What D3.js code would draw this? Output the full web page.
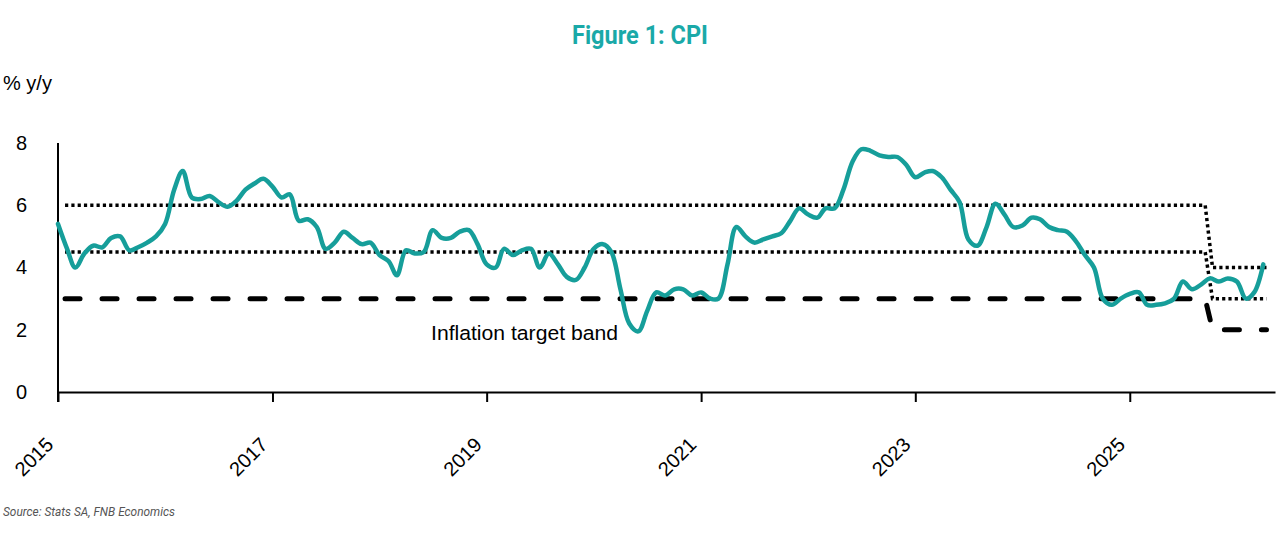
<!DOCTYPE html>
<html>
<head>
<meta charset="utf-8">
<script src="https://cdn.jsdelivr.net/npm/d3@7"></script>
<style>
  body { margin: 0; background: #fff; }
  svg { display: block; font-family: "Liberation Sans", Arial, sans-serif; }
</style>
</head>
<body>
<svg width="1281" height="544"></svg>
<script>
// CPI % y/y, monthly from Jan 2015
var cpiStart = "2015-01";
var cpi = [
  5.4, 4.6, 4.0, 4.45, 4.7, 4.65, 4.95, 5.0, 4.55, 4.65, 4.8, 5.0,
  5.4, 6.5, 7.1, 6.25, 6.2, 6.3, 6.1, 5.95, 6.15, 6.5, 6.7, 6.85,
  6.6, 6.25, 6.35, 5.5, 5.55, 5.3, 4.6, 4.8, 5.15, 4.95, 4.75, 4.8,
  4.4, 4.2, 3.75, 4.55, 4.45, 4.5, 5.2, 4.95, 4.95, 5.15, 5.2, 4.75,
  4.1, 4.0, 4.6, 4.4, 4.55, 4.6, 4.0, 4.45, 4.1, 3.7, 3.6, 4.0,
  4.6, 4.75, 4.5, 3.3, 2.2, 1.95, 2.6, 3.2, 3.1, 3.3, 3.3, 3.1,
  3.2, 3.0, 3.0, 4.1, 5.3, 5.0, 4.8, 4.9, 5.0, 5.1, 5.5, 5.9,
  5.7, 5.6, 5.9, 5.9, 6.5, 7.4, 7.8, 7.75, 7.6, 7.55, 7.55, 7.3,
  6.9, 7.05, 7.1, 6.9, 6.5, 6.1, 4.9, 4.7, 5.3, 6.05, 5.7, 5.3,
  5.35, 5.6, 5.55, 5.3, 5.2, 5.15, 4.85, 4.4, 4.0, 3.0, 2.8, 3.0,
  3.15, 3.2, 2.8, 2.8, 2.85, 3.0, 3.55, 3.3, 3.45, 3.65, 3.55, 3.65,
  3.55, 3.0, 3.2, 4.1
];

// inflation target band
var bandDates = ["2015-01-25", "2025-09-15", "2025-10-10", "2026-04-12"];
var bandUpper = [6, 6, 4, 4];
var bandMid = [4.5, 4.5, 3, 3];
var bandLower = [3, 3, 2, 2];

var yTicks = [0, 2, 4, 6, 8];
var xTickYears = [2015, 2017, 2019, 2021, 2023, 2025];

var teal = "#169e9a";
var svg = d3.select("svg");

var parseMonth = d3.timeParse("%Y-%m");
var parseDay = d3.timeParse("%Y-%m-%d");
var start = parseMonth(cpiStart);

var cpiData = cpi.map(function(v, i){
    return { date: d3.timeMonth.offset(start, i), value: v };
});

var band = function(vals){
    return vals.map(function(v, i){
        return { date: parseDay(bandDates[i]), value: v };
    });
};

var x = d3.scaleTime()
    .domain([new Date(2015, 0, 1), new Date(2026, 4, 11)])
    .range([58, 1275]);

var y = d3.scaleLinear()
    .domain([0, 8])
    .range([392, 143]);

// title
svg.append("text")
    .attr("x", 640)
    .attr("y", 44)
    .attr("text-anchor", "middle")
    .attr("font-family", "Roboto, sans-serif")
    .attr("font-weight", "bold")
    .attr("font-size", 25)
    .attr("textLength", 136)
    .attr("lengthAdjust", "spacingAndGlyphs")
    .attr("fill", "#1aa9a8")
    .text("Figure 1: CPI");

svg.append("text")
    .attr("x", 3)
    .attr("y", 90)
    .attr("font-size", 20)
    .text("% y/y");

// y axis
var yAxis = svg.append("g")
    .attr("transform", "translate(58,0)")
    .call(d3.axisLeft(y).tickValues(yTicks).tickSize(0).tickPadding(31));
yAxis.select(".domain").remove();
yAxis.selectAll("text")
    .attr("font-size", 20)
    .attr("font-family", "Liberation Sans, Arial, sans-serif")
    .attr("fill", "#000");

svg.append("line")
    .attr("x1", 58).attr("x2", 58)
    .attr("y1", y(8)).attr("y2", 402)
    .attr("stroke", "#000")
    .attr("stroke-width", 2);

// x axis
var xAxis = svg.append("g")
    .attr("transform", "translate(0," + y(0) + ")")
    .call(d3.axisBottom(x)
        .tickValues(xTickYears.map(function(yr){ return new Date(yr, 0, 1); }))
        .tickFormat(d3.timeFormat("%Y"))
        .tickSize(10)
        .tickSizeOuter(0));
xAxis.select(".domain").attr("stroke", "#000").attr("stroke-width", 2);
xAxis.selectAll(".tick line").attr("stroke", "#000").attr("stroke-width", 2);
xAxis.selectAll("text")
    .attr("font-size", 20)
    .attr("font-family", "Liberation Sans, Arial, sans-serif")
    .attr("fill", "#000")
    .attr("text-anchor", "end")
    .attr("x", 0)
    .attr("y", 0)
    .attr("dy", 0)
    .attr("transform", "translate(-4,54) rotate(-45)");

// target band lines
var bandLine = d3.line()
    .x(function(d){ return x(d.date); })
    .y(function(d){ return y(d.value); });

svg.append("path")
    .datum(band(bandUpper))
    .attr("d", bandLine)
    .attr("fill", "none")
    .attr("stroke", "#000")
    .attr("stroke-width", 3.5)
    .attr("stroke-dasharray", "3.2 3.1");

svg.append("path")
    .datum(band(bandMid))
    .attr("d", bandLine)
    .attr("fill", "none")
    .attr("stroke", "#000")
    .attr("stroke-width", 3.5)
    .attr("stroke-dasharray", "3.2 3.1");

svg.append("path")
    .datum(band(bandLower))
    .attr("d", bandLine)
    .attr("fill", "none")
    .attr("stroke", "#000")
    .attr("stroke-width", 5)
    .attr("stroke-linecap", "round")
    .attr("stroke-dasharray", "15 22");

// CPI line
var cpiLine = d3.line()
    .curve(d3.curveCatmullRom.alpha(0.5))
    .x(function(d){ return x(d.date); })
    .y(function(d){ return y(d.value); });

svg.append("path")
    .datum(cpiData)
    .attr("d", cpiLine)
    .attr("fill", "none")
    .attr("stroke", teal)
    .attr("stroke-width", 4.5)
    .attr("stroke-linejoin", "round")
    .attr("stroke-linecap", "round");

svg.append("text")
    .attr("x", 431)
    .attr("y", 340)
    .attr("font-size", 20.5)
    .attr("textLength", 187)
    .attr("lengthAdjust", "spacingAndGlyphs")
    .text("Inflation target band");

// source
svg.append("text")
    .attr("x", 3)
    .attr("y", 516)
    .attr("font-family", "Roboto, sans-serif")
    .attr("font-style", "italic")
    .attr("font-size", 13)
    .attr("textLength", 172)
    .attr("lengthAdjust", "spacingAndGlyphs")
    .attr("fill", "#555")
    .text("Source: Stats SA, FNB Economics");
</script>
</body>
</html>
